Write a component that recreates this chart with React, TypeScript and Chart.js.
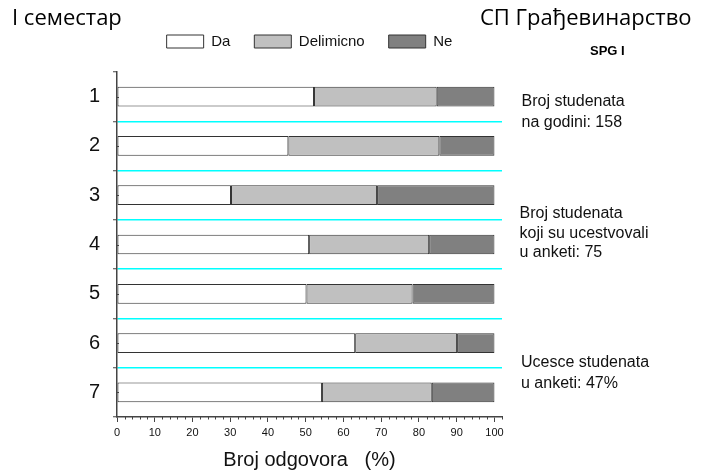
import React, { useEffect, useRef } from 'react';
import { Chart, registerables } from 'chart.js';

Chart.register(...registerables);

// ---- data ----
const categories = ['1', '2', '3', '4', '5', '6', '7'];
const seriesNames = ['Da', 'Delimicno', 'Ne'];
const daValues = [52.2, 45.4, 30.2, 50.9, 50.2, 63.1, 54.3];
const delimicnoValues = [32.5, 40.0, 38.7, 31.8, 28.1, 27.0, 29.1];
const neValues = [15.3, 14.6, 31.1, 17.3, 21.7, 9.9, 16.6];
const xMin = 0;
const xMax = 102;
const xMinorStep = 2;
const xMajorStep = 10;

// ---- texts ----
const leftTitle = 'I семестар';
const rightTitle = 'СП Грађевинарство';
const subTitle = 'SPG I';
const axisTitle = 'Broj odgovora   (%)';
const noteGroup1 = ['Broj studenata', 'na godini: 158'];
const noteGroup2 = ['Broj studenata', 'koji su ucestvovali', 'u anketi: 75'];
const noteGroup3 = ['Ucesce studenata', 'u anketi: 47%'];

const AXIS = '#444';
const TEXT = '#111';
const CYAN = 'rgb(0,255,255)';

const extrasPlugin = {
  id: 'extras',
  afterDraw(chart: any) {
    const { ctx } = chart;
    const xs = chart.scales.x;
    const ys = chart.scales.y;
    ctx.save();
    // minor ticks on x axis
    ctx.strokeStyle = AXIS;
    ctx.lineWidth = 1;
    for (let v = xMin; v <= xMax; v += xMinorStep) {
      if (v % xMajorStep === 0) continue;
      const px = Math.round(xs.getPixelForValue(v)) + 0.5;
      ctx.beginPath();
      ctx.moveTo(px, xs.top);
      ctx.lineTo(px, xs.top + 2.5);
      ctx.stroke();
    }
    // inner minor ticks on y axis at category centers
    categories.forEach((_, i) => {
      const py = Math.round(ys.getPixelForValue(i)) + 0.5;
      ctx.beginPath();
      ctx.moveTo(ys.right, py);
      ctx.lineTo(ys.right + 2, py);
      ctx.stroke();
    });

    // headings
    ctx.fillStyle = '#000';
    ctx.textBaseline = 'alphabetic';
    ctx.textAlign = 'left';
    ctx.font = "22px 'Open Sans', 'Noto Sans', sans-serif";
    ctx.fillText(leftTitle, 12, 25);
    ctx.fillText(rightTitle, 480, 25);
    ctx.font = "bold 13px 'Liberation Sans', Arial, sans-serif";
    ctx.fillText(subTitle, 590, 55);

    // notes
    ctx.fillStyle = TEXT;
    ctx.font = "16px 'Liberation Sans', Arial, sans-serif";
    const drawGroup = (lines: string[], x: number, y0: number, step: number) => {
      lines.forEach((t, i) => ctx.fillText(t, x, y0 + i * step));
    };
    drawGroup(noteGroup1, 521.5, 105.5, 21.5);
    drawGroup(noteGroup2, 519.5, 218, 19.5);
    drawGroup(noteGroup3, 521, 366.5, 21);
    ctx.restore();
  },
};

export default function App() {
  const canvasRef = useRef<HTMLCanvasElement | null>(null);

  useEffect(() => {
    if (!canvasRef.current) return;
    Chart.defaults.font.family = "'Liberation Sans', Arial, sans-serif";
    Chart.defaults.color = TEXT;

    const mk = (label: string, data: number[], bg: string) => ({
      label,
      data,
      backgroundColor: bg,
      borderColor: '#333',
      borderWidth: 1,
      borderSkipped: false,
      barPercentage: 0.4,
      categoryPercentage: 1,
    });

    const chart = new Chart(canvasRef.current, {
      type: 'bar',
      data: {
        labels: categories,
        datasets: [
          mk(seriesNames[0], daValues, '#ffffff'),
          mk(seriesNames[1], delimicnoValues, '#c0c0c0'),
          mk(seriesNames[2], neValues, '#808080'),
        ],
      },
      options: {
        indexAxis: 'y',
        responsive: false,
        animation: false,
        devicePixelRatio: 1,
        layout: { padding: { top: 10, left: 0, right: 206, bottom: 0 } },
        plugins: {
          tooltip: { enabled: false },
          // empty spacer box below the legend
          title: {
            display: true,
            text: ' ',
            position: 'top',
            weight: 500,
            fullSize: false,
            padding: 0,
            font: { size: 13, lineHeight: 1 },
          },
          legend: {
            display: true,
            position: 'top',
            align: 'center',
            fullSize: false,
            labels: {
              boxWidth: 37,
              boxHeight: 13,
              padding: 24,
              color: TEXT,
              font: { size: 15 },
            },
          },
        },
        scales: {
          x: {
            type: 'linear',
            stacked: true,
            position: 'bottom',
            min: xMin,
            max: xMax,
            border: { color: AXIS, width: 1.5 },
            grid: {
              drawOnChartArea: false,
              drawTicks: true,
              tickLength: 5,
              tickWidth: 1,
              tickColor: (c: any) =>
                c.tick && c.tick.value % xMajorStep === 0 ? AXIS : 'transparent',
            },
            ticks: {
              stepSize: xMinorStep,
              maxTicksLimit: 200,
              autoSkip: false,
              maxRotation: 0,
              minRotation: 0,
              padding: 4,
              color: TEXT,
              font: { size: 11 },
              callback: (v: any) => (Number(v) % xMajorStep === 0 ? String(v) : ''),
            },
            title: {
              display: true,
              text: axisTitle,
              color: TEXT,
              font: { size: 20 },
              padding: { top: 0, bottom: 3 },
            },
            afterFit: (s: any) => {
              s.height = 58;
            },
          },
          y: {
            type: 'category',
            stacked: true,
            position: 'left',
            border: { color: AXIS, width: 1.5 },
            grid: {
              color: (c: any) => (c.type === 'tick' && c.index > 0 ? CYAN : 'transparent'),
              lineWidth: 1.5,
              tickColor: AXIS,
              tickLength: 4,
              tickWidth: 1,
            },
            ticks: {
              autoSkip: false,
              padding: 13,
              color: TEXT,
              font: { size: 20 },
            },
            afterFit: (s: any) => {
              s.width = 117;
            },
          },
        },
      },
      plugins: [extrasPlugin],
    } as any);

    return () => chart.destroy();
  }, []);

  return (
    <div style={{ position: 'absolute', left: 0, top: 0, width: 708, height: 475 }}>
      <canvas ref={canvasRef} width={708} height={475} style={{ display: 'block' }} />
    </div>
  );
}
